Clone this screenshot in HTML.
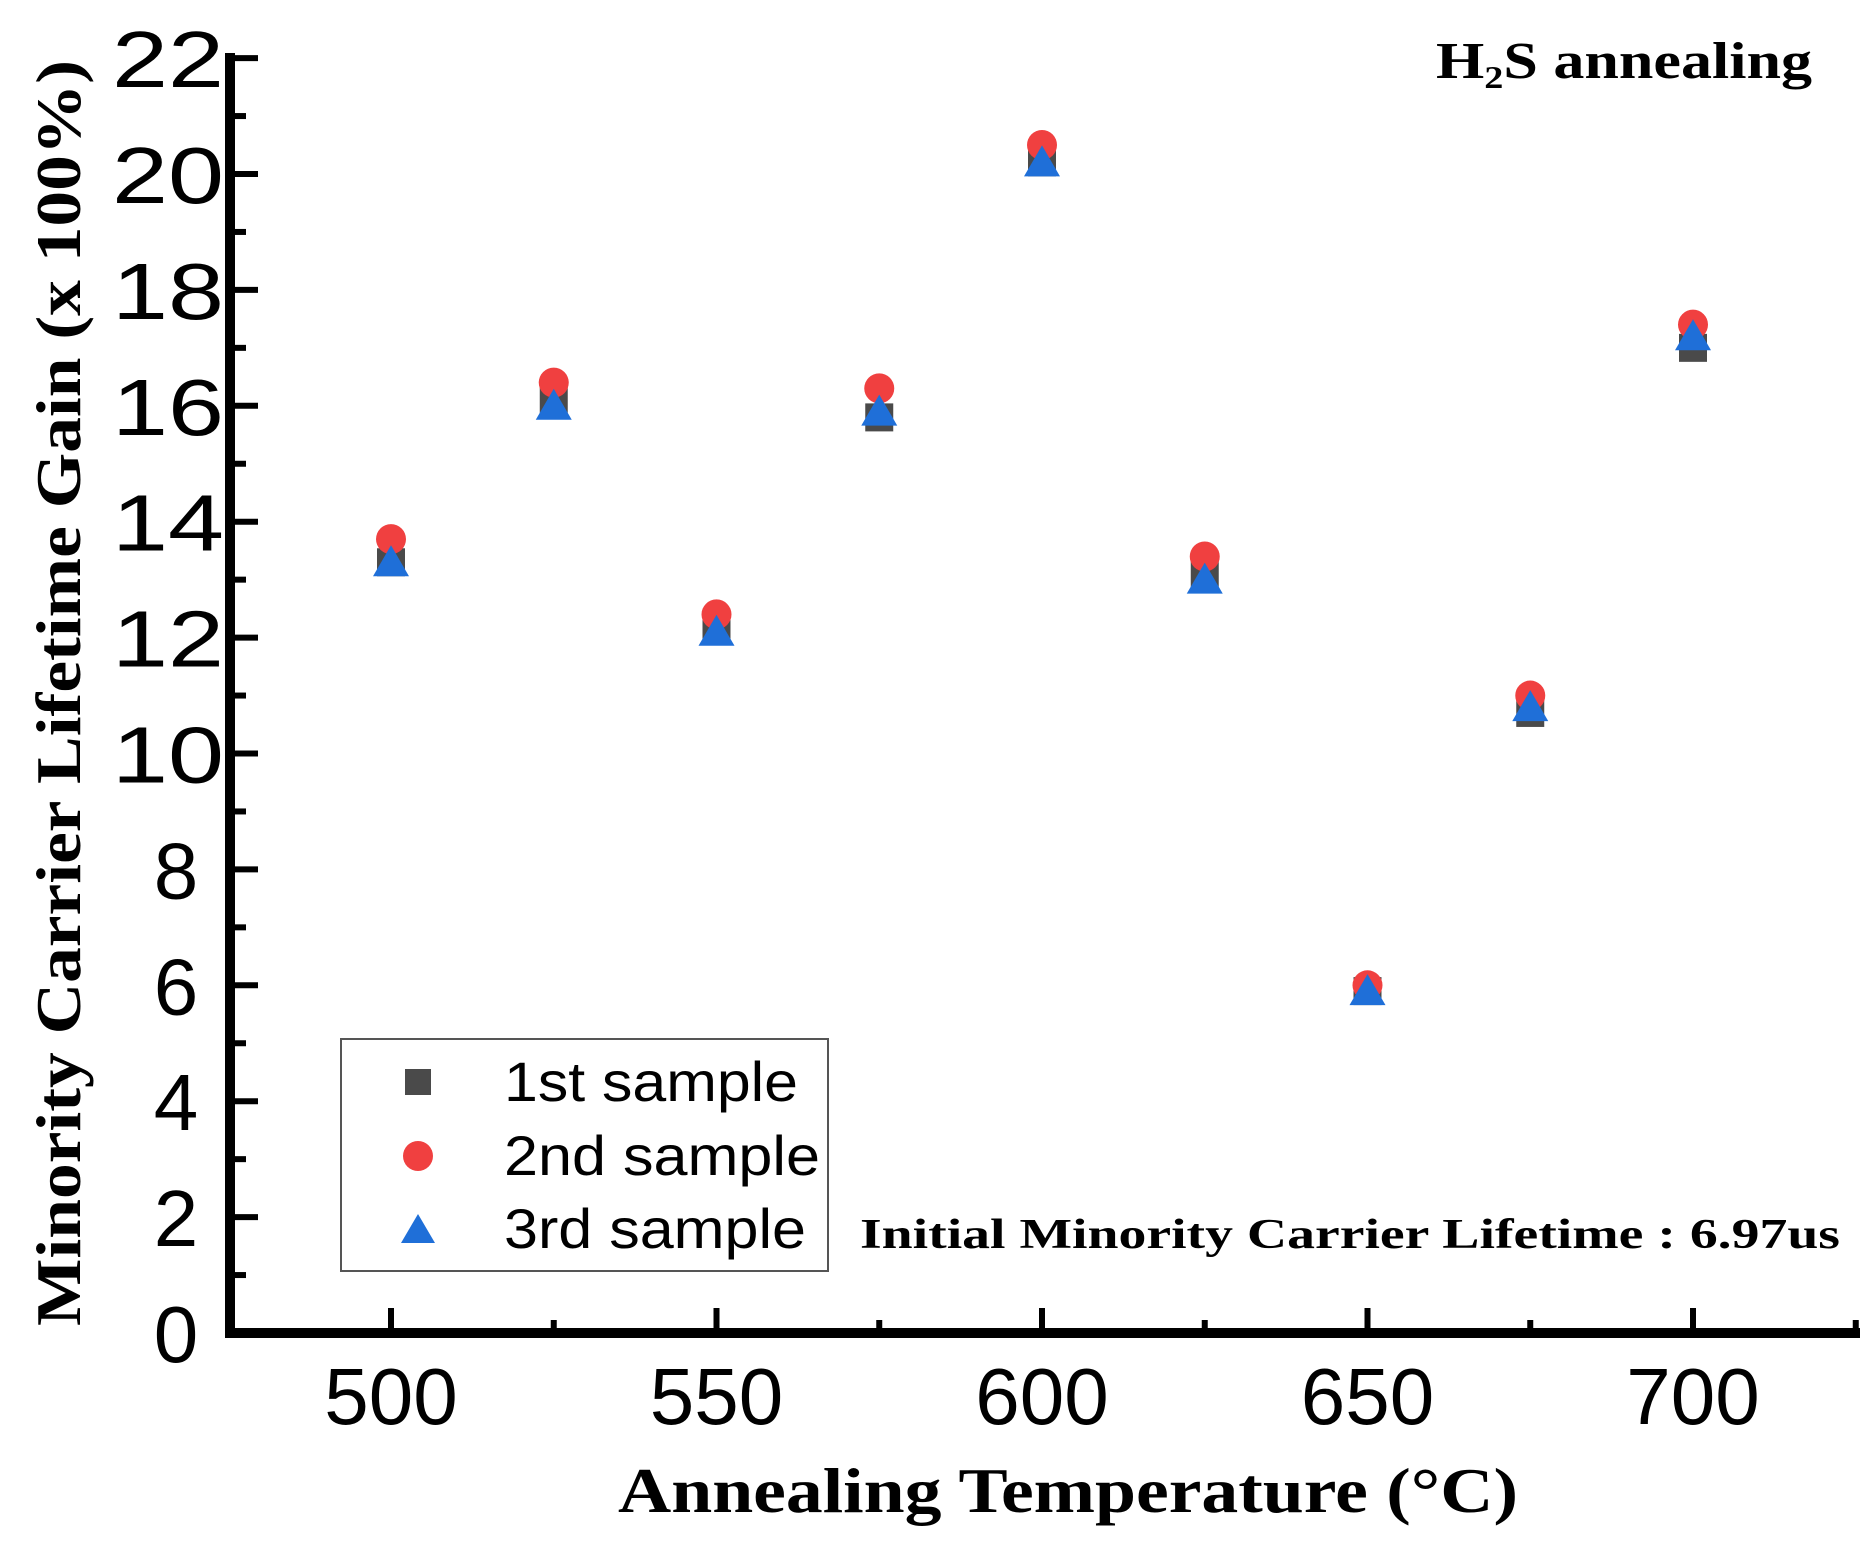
<!DOCTYPE html>
<html><head><meta charset="utf-8"><style>html,body{margin:0;padding:0;background:#fff}svg{display:block}</style></head>
<body>
<svg id="c" width="1876" height="1558" xmlns="http://www.w3.org/2000/svg">
<rect width="1876" height="1558" fill="#fff"/>
<g id="g"></g>
<text x="1436" y="78" font-family="Liberation Serif, serif" font-weight="bold" font-size="52" textLength="376" lengthAdjust="spacingAndGlyphs">H<tspan font-size="32" dy="10">2</tspan><tspan dy="-10">S annealing</tspan></text>
<text x="860" y="1248" font-family="Liberation Serif, serif" font-weight="bold" font-size="42" textLength="980" lengthAdjust="spacingAndGlyphs">Initial Minority Carrier Lifetime : 6.97us</text>
<text x="1068" y="1512" font-family="Liberation Serif, serif" font-weight="bold" font-size="64" text-anchor="middle" textLength="900" lengthAdjust="spacingAndGlyphs">Annealing Temperature (°C)</text>
<text transform="translate(80,693) rotate(-90)" font-family="Liberation Serif, serif" font-weight="bold" font-size="64" text-anchor="middle" textLength="1266" lengthAdjust="spacingAndGlyphs">Minority Carrier Lifetime Gain (x 100%)</text>
<rect x="341" y="1039" width="487" height="232" fill="#fff" stroke="#555" stroke-width="2"/>
<rect x="405" y="1069" width="26" height="26" fill="#4a4a4a"/>
<circle cx="418" cy="1156" r="15" fill="#f04040"/>
<polygon points="418,1214 435,1243 401,1243" fill="#1f6fd8"/>
<g font-family="Liberation Sans, sans-serif" font-size="56" fill="#000">
<text x="504" y="1101" textLength="294" lengthAdjust="spacingAndGlyphs">1st sample</text>
<text x="504" y="1175" textLength="316" lengthAdjust="spacingAndGlyphs">2nd sample</text>
<text x="504" y="1248" textLength="302" lengthAdjust="spacingAndGlyphs">3rd sample</text>
</g>
</svg>
<script>
var g=document.getElementById('g'),s='';
function Y(v){return 1333-v*57.95}function X(t){return 391+(t-500)*6.51}
s+='<line x1="230" y1="53" x2="230" y2="1338" stroke="#000" stroke-width="10"/>';
s+='<line x1="225" y1="1333" x2="1860" y2="1333" stroke="#000" stroke-width="10"/>';
for(var v=0;v<=22;v++){var y=Y(v),maj=v%2==0;s+='<line x1="230" y1="'+y+'" x2="'+(maj?258:246)+'" y2="'+y+'" stroke="#000" stroke-width="6"/>';
if(maj){var tl=v>=10?' textLength="112" lengthAdjust="spacingAndGlyphs"':'';s+='<text x="'+(v>=10?168:176)+'" y="'+(y+29)+'" font-family="Liberation Sans, sans-serif" font-size="80" text-anchor="middle"'+tl+'>'+v+'</text>';}}
for(var t=500;t<=725;t+=25){var x=X(t),maj=t%50==0;s+='<line x1="'+x+'" y1="1333" x2="'+x+'" y2="'+(maj?1308:1320)+'" stroke="#000" stroke-width="6"/>';
if(maj&&t<=700)s+='<text x="'+x+'" y="1424" font-family="Liberation Sans, sans-serif" font-size="80" text-anchor="middle">'+t+'</text>';}
var d=[[500,13.3,13.7,13.3],[525,16.1,16.4,16.0],[550,12.2,12.4,12.1],[575,15.8,16.3,15.9],[600,20.2,20.5,20.2],[625,13.1,13.4,13.0],[650,5.9,6.0,5.9],[675,10.7,11.0,10.8],[700,17.0,17.4,17.2]];
d.forEach(function(p){var x=X(p[0]);var a=Y(p[1]),b=Y(p[2]),c=Y(p[3]);
s+='<rect x="'+(x-14)+'" y="'+(a-14)+'" width="28" height="28" fill="#4a4a4a"/>';
s+='<circle cx="'+x+'" cy="'+b+'" r="15" fill="#f04040"/>';
s+='<polygon points="'+x+','+(c-17)+' '+(x+18)+','+(c+14)+' '+(x-18)+','+(c+14)+'" fill="#1f6fd8"/>';});
g.innerHTML=s;
</script>
</body></html>
